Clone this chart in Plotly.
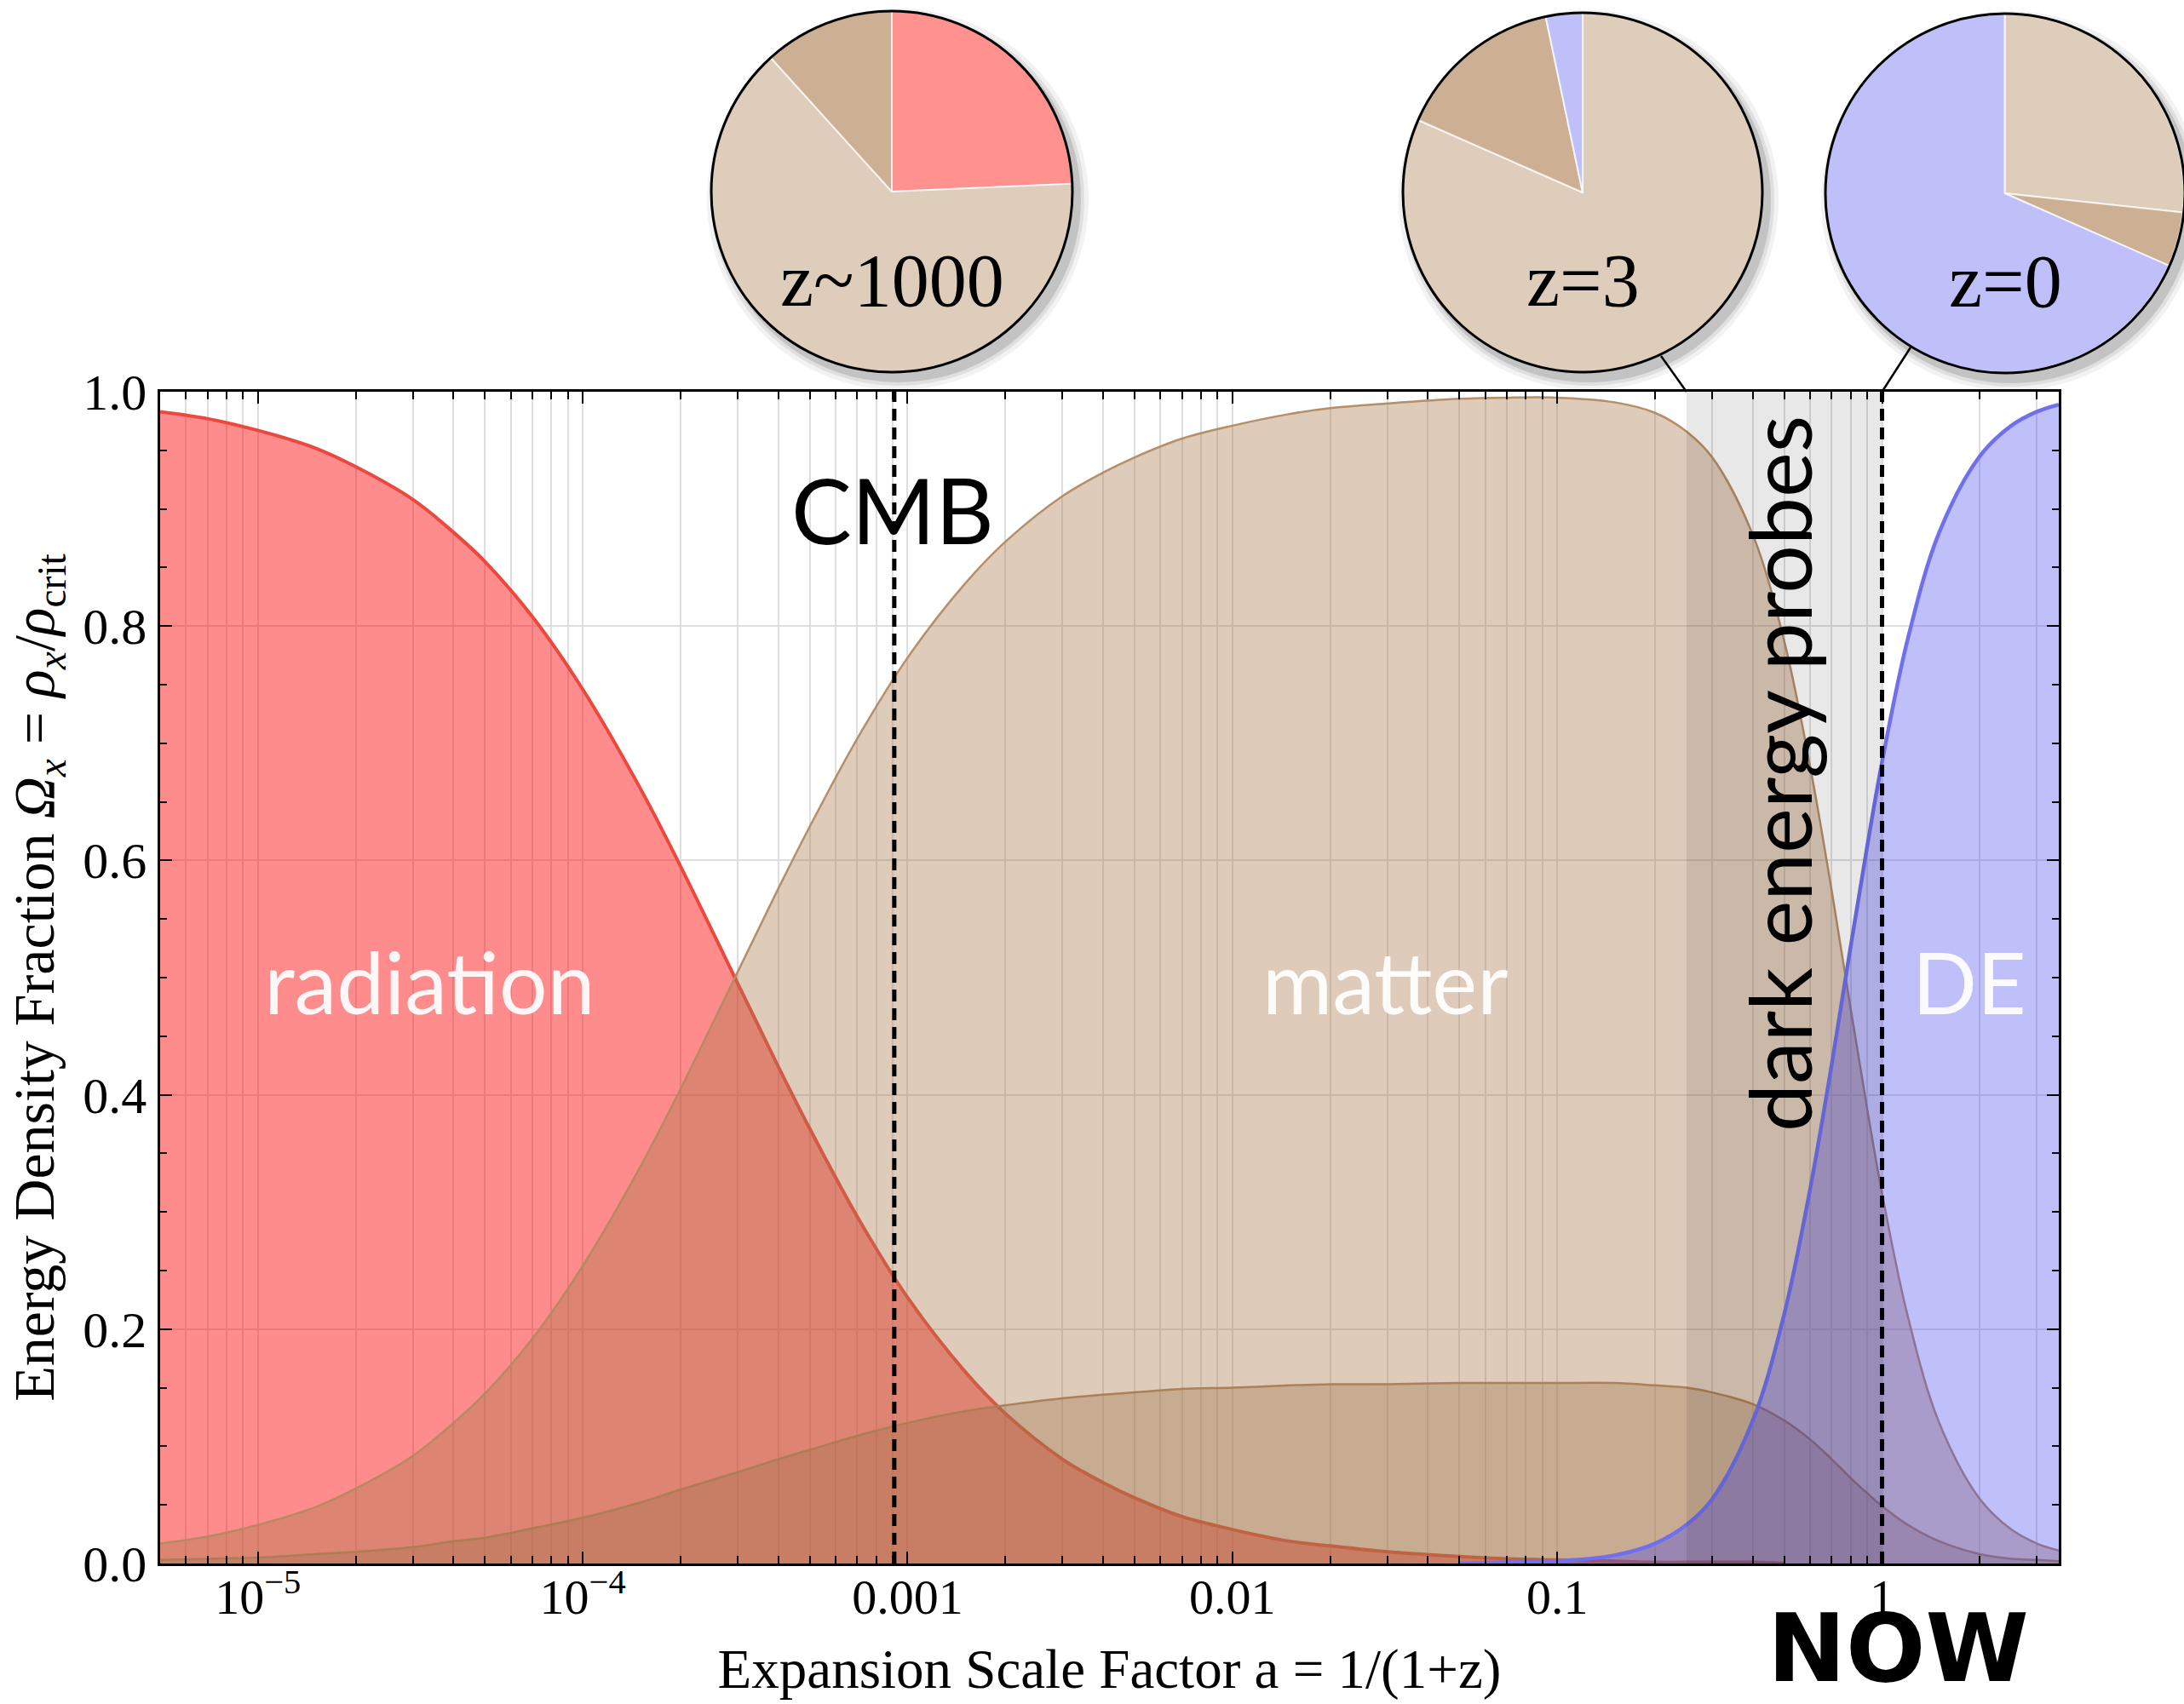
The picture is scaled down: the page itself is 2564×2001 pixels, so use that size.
import math
import plotly.graph_objects as go

W, H = 2564, 2001

# ---------------- data ----------------
scale_factor = [5e-6, 7e-6, 1e-5, 1.5e-5, 2e-5, 3e-5, 4e-5, 5e-5, 7e-5,
                1e-4, 1.5e-4, 2e-4, 3e-4, 4e-4, 5e-4, 7e-4,
                1e-3, 1.5e-3, 2e-3, 3e-3, 4e-3, 5e-3, 7e-3,
                1e-2, 1.5e-2, 2e-2, 3e-2, 5e-2, 7e-2,
                0.1, 0.15, 0.2, 0.25, 0.3, 0.4, 0.5, 0.6, 0.7, 0.8, 0.9,
                1.0, 1.2, 1.5, 2.0, 2.5, 3.0, 3.5]

radiation = [0.983, 0.977, 0.967, 0.952, 0.936, 0.908, 0.880, 0.855, 0.808,
             0.746, 0.662, 0.595, 0.495, 0.424, 0.371, 0.296,
             0.227, 0.164, 0.128, 0.089, 0.069, 0.056, 0.040,
             0.029, 0.019, 0.015, 0.010, 0.006, 0.004,
             0.003, 0.002, 0.001, 0.001, 0.001, 0.001, 0.0, 0.0, 0.0, 0.0, 0.0,
             0.0, 0.0, 0.0, 0.0, 0.0, 0.0, 0.0]

matter = [0.017, 0.023, 0.033, 0.048, 0.064, 0.092, 0.120, 0.145, 0.192,
          0.254, 0.338, 0.405, 0.505, 0.576, 0.629, 0.704,
          0.773, 0.836, 0.872, 0.911, 0.931, 0.944, 0.960,
          0.971, 0.981, 0.986, 0.990, 0.994, 0.995,
          0.995, 0.991, 0.982, 0.966, 0.944, 0.878, 0.787, 0.681, 0.574, 0.474, 0.388,
          0.316, 0.211, 0.120, 0.055, 0.029, 0.017, 0.011]

baryons = [0.003, 0.004, 0.005, 0.008, 0.010, 0.014, 0.019, 0.022, 0.030,
           0.039, 0.052, 0.063, 0.078, 0.089, 0.097, 0.109,
           0.120, 0.130, 0.135, 0.141, 0.144, 0.146, 0.149,
           0.150, 0.152, 0.153, 0.153, 0.154, 0.154,
           0.154, 0.154, 0.152, 0.150, 0.146, 0.136, 0.122, 0.106, 0.089, 0.073, 0.060,
           0.049, 0.033, 0.019, 0.008, 0.004, 0.003, 0.002]

dark_energy = [0.0, 0.0, 0.0, 0.0, 0.0, 0.0, 0.0, 0.0, 0.0,
               0.0, 0.0, 0.0, 0.0, 0.0, 0.0, 0.0,
               0.0, 0.0, 0.0, 0.0, 0.0, 0.0, 0.0,
               0.0, 0.0, 0.0, 0.0, 0.0, 0.001,
               0.002, 0.007, 0.017, 0.033, 0.055, 0.122, 0.213, 0.319, 0.426, 0.526, 0.612,
               0.684, 0.789, 0.880, 0.945, 0.971, 0.983, 0.989]

probe_band = [0.25, 1.0]          # z = 3  ->  z = 0
cmb_scale_factor = 0.00091        # z ~ 1000 (recombination)
now_scale_factor = 1.0

x_tickvals = [1e-5, 1e-4, 1e-3, 1e-2, 0.1, 1.0]
x_ticktext = ["10<sup>\u22125</sup>", "10<sup>\u22124</sup>", "0.001", "0.01", "0.1", "1"]

pie_labels_cmb = ["radiation", "dark matter", "baryons"]
pie_values_cmb = [0.243, 0.640, 0.117]
pie_labels_z3 = ["dark matter", "baryons", "dark energy"]
pie_values_z3 = [0.816, 0.151, 0.033]
pie_labels_z0 = ["dark matter", "baryons", "dark energy"]
pie_values_z0 = [0.267, 0.049, 0.684]
pie_titles = ["z~1000", "z=3", "z=0"]

# ---------------- styling / layout constants ----------------
A_MIN, A_MAX = 5e-6, 3.5
X_LO, X_HI = math.log10(A_MIN), math.log10(A_MAX)
PLOT_L, PLOT_R, PLOT_T, PLOT_B = 188, 2417, 460, 1836
XDOM = [PLOT_L / W, PLOT_R / W]
YDOM = [(H - PLOT_B) / H, (H - PLOT_T) / H]

SERIF = "Liberation Serif, Times New Roman, serif"
SANS = "Lato, Open Sans, sans-serif"

COL_PIE = {"radiation": "rgb(255,146,142)", "dark matter": "rgb(222,205,187)",
           "baryons": "rgb(205,176,148)", "dark energy": "rgb(191,192,250)"}


def px(x, y):
    return x / W, 1 - y / H


def a_to_paper_x(a):
    return XDOM[0] + (math.log10(a) - X_LO) / (X_HI - X_LO) * (XDOM[1] - XDOM[0])


def nonzero_span(xs, ys):
    """Drop the runs of exact zeros at either end (keeping one anchor zero),
    so that no curve is stroked along the bottom axis."""
    idx = [i for i, v in enumerate(ys) if v > 0]
    lo, hi = max(idx[0] - 1, 0), min(idx[-1] + 1, len(ys) - 1)
    return xs[lo:hi + 1], ys[lo:hi + 1]


fig = go.Figure()

series = [
    ("radiation", radiation, "rgba(255,0,0,0.45)", "rgb(236,72,62)", 4),
    ("matter", matter, "rgba(170,122,76,0.39)", "rgba(178,138,98,0.95)", 2.5),
    ("baryons", baryons, "rgba(160,115,72,0.35)", "rgba(170,125,82,0.95)", 2.5),
    ("dark energy", dark_energy, "rgba(60,60,240,0.33)", "rgb(112,112,236)", 4.5),
]
for name, vals, fillc, linec, lw in series:
    xs, ys = nonzero_span(scale_factor, vals)
    fig.add_trace(go.Scatter(
        x=xs, y=ys, name=name, mode="lines", fill="tozeroy",
        fillcolor=fillc, line=dict(color=linec, width=lw, shape="spline", smoothing=1.0),
        showlegend=False))

# dark energy probes band
fig.add_trace(go.Scatter(
    x=[probe_band[0], probe_band[0], probe_band[1], probe_band[1], probe_band[0]],
    y=[0, 1, 1, 0, 0], mode="lines", fill="toself", fillcolor="rgba(0,0,0,0.09)",
    line=dict(width=0), hoverinfo="skip", showlegend=False))

# dashed markers: CMB and NOW
for a in (cmb_scale_factor, now_scale_factor):
    fig.add_trace(go.Scatter(
        x=[a, a], y=[0, 1], mode="lines",
        line=dict(color="black", width=5, dash="14px,8px"),
        hoverinfo="skip", showlegend=False))

# ---------------- pies ----------------
pie_geom = [(1047, 225, 212), (1858, 226, 211), (2354, 227, 211)]
pie_data = [(pie_labels_cmb, pie_values_cmb), (pie_labels_z3, pie_values_z3),
            (pie_labels_z0, pie_values_z0)]
shapes = []
annotations = []
for (cx, cy, r), (labs, vals), title in zip(pie_geom, pie_data, pie_titles):
    x0, x1 = max(0, (cx - r) / W), min(1, (cx + r) / W)
    y0, y1 = 1 - (cy + r) / H, 1 - (cy - r) / H
    fig.add_trace(go.Pie(
        labels=labs, values=vals, sort=False, direction="clockwise", rotation=0,
        textinfo="none", hoverinfo="label+percent", showlegend=False,
        domain=dict(x=[x0, x1], y=[y0, y1]),
        marker=dict(colors=[COL_PIE[l] for l in labs],
                    line=dict(color="rgba(255,255,255,0.75)", width=2))))
    # soft drop shadow
    for grow, op in ((12, 0.05), (7, 0.08), (3, 0.12)):
        sx, sy = cx + 7, cy + 9
        shapes.append(dict(type="circle", xref="paper", yref="paper", layer="below",
                           x0=(sx - r - grow) / W, x1=(sx + r + grow) / W,
                           y0=1 - (sy + r + grow) / H, y1=1 - (sy - r - grow) / H,
                           fillcolor=f"rgba(0,0,0,{op})", line=dict(width=0)))
    # black outline
    shapes.append(dict(type="circle", xref="paper", yref="paper", layer="above",
                       x0=(cx - r) / W, x1=(cx + r) / W,
                       y0=1 - (cy + r) / H, y1=1 - (cy - r) / H,
                       line=dict(color="black", width=3)))
    tx, ty = px(cx, cy + 104)
    annotations.append(dict(text=title, x=tx, y=ty, xref="paper", yref="paper",
                            showarrow=False, xanchor="center", yanchor="middle",
                            font=dict(family=SERIF, size=88, color="black")))

# connectors from the z=3 / z=0 pies to the band edges
for (ux, uy), a in (((1950, 418), probe_band[0]), ((2243, 408), probe_band[1])):
    shapes.append(dict(type="line", xref="paper", yref="paper", layer="above",
                       x0=ux / W, y0=1 - uy / H, x1=a_to_paper_x(a), y1=YDOM[1],
                       line=dict(color="black", width=2.5)))

# ---------------- text labels ----------------
def label(text, x, y, size, color, family=SANS, angle=0):
    xp, yp = px(x, y)
    annotations.append(dict(text=text, x=xp, y=yp, xref="paper", yref="paper",
                            showarrow=False, xanchor="center", yanchor="middle",
                            textangle=angle, font=dict(family=family, size=size, color=color)))

label("CMB", 1048, 598, 106, "black")
label("radiation", 504, 1152, 100, "rgba(255,255,255,0.93)")
label("matter", 1626, 1152, 100, "rgba(255,255,255,0.93)")
label("DE", 2312, 1152, 100, "rgba(255,255,255,0.93)")
label("dark energy probes", 2088, 909, 100, "black", angle=-90)
label("<b>NOW</b>", 2228, 1936, 110, "black", family="DejaVu Sans, sans-serif")

# minor tick positions on the log axis
minor_x = [k * 10.0 ** n for n in range(-6, 1) for k in range(2, 10)
           if A_MIN <= k * 10.0 ** n <= A_MAX]

fig.update_layout(
    width=W, height=H, autosize=False,
    margin=dict(l=0, r=0, t=0, b=0, pad=0, autoexpand=False),
    paper_bgcolor="white", plot_bgcolor="white",
    showlegend=False,
    shapes=shapes, annotations=annotations,
    xaxis=dict(
        type="log", domain=XDOM, range=[X_LO, X_HI], automargin=False,
        tickmode="array", tickvals=x_tickvals, ticktext=x_ticktext,
        ticks="inside", ticklen=14, tickwidth=2, tickcolor="black",
        showline=True, linecolor="black", linewidth=2.5, mirror="ticks",
        showgrid=True, gridcolor="rgb(222,222,222)", gridwidth=2,
        zeroline=False, ticklabelstandoff=-13,
        tickfont=dict(family=SERIF, size=58, color="black"),
        minor=dict(tickmode="array", tickvals=minor_x, ticks="inside", ticklen=9,
                   tickwidth=2, tickcolor="black", showgrid=True,
                   gridcolor="rgb(222,222,222)", gridwidth=2),
        title=dict(text="Expansion Scale Factor a = 1/(1+z)", standoff=30,
                   font=dict(family=SERIF, size=65, color="black")),
    ),
    yaxis=dict(
        domain=YDOM, range=[0, 1], dtick=0.2, tick0=0, tickformat=".1f", automargin=False,
        ticks="inside", ticklen=14, tickwidth=2, tickcolor="black",
        showline=True, linecolor="black", linewidth=2.5, mirror="ticks",
        showgrid=True, gridcolor="rgb(222,222,222)", gridwidth=2,
        zeroline=False, ticklabelstandoff=1,
        tickfont=dict(family=SERIF, size=60, color="black"),
        minor=dict(dtick=0.05, ticks="inside", ticklen=8, tickwidth=2,
                   tickcolor="black", showgrid=False),
        title=dict(text="Energy Density Fraction <i>\u03a9<sub>x</sub></i> = "
                        "<i>\u03c1<sub>x</sub></i>/<i>\u03c1</i><sub>crit</sub>",
                   standoff=12, font=dict(family=SERIF, size=68, color="black")),
    ),
)

fig.write_html("out.html",
               config={"displayModeBar": False},
               post_script="document.body.style.margin='0';"
                           "document.body.style.overflow='hidden';")
